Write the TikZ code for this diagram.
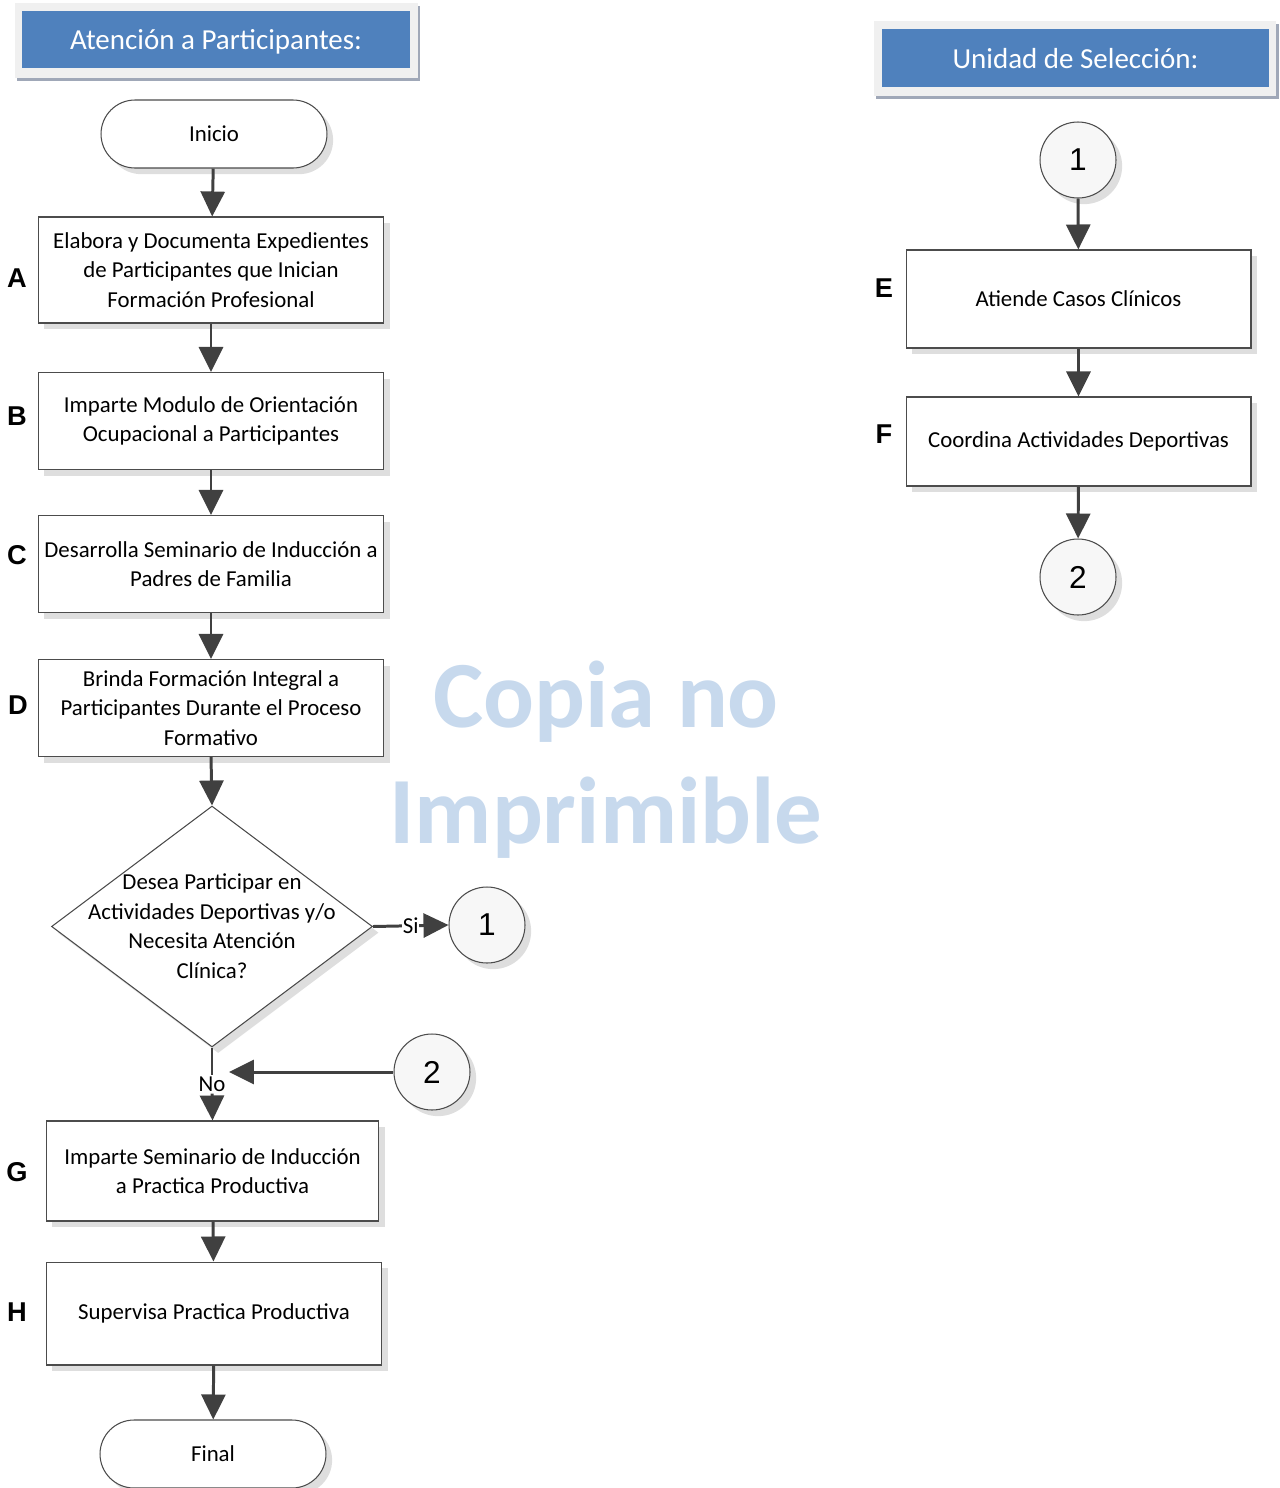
\documentclass[tikz,border=0pt]{standalone}
\usepackage{fontspec}
\setmainfont{Carlito}
\newfontfamily\arialfont{Liberation Sans}
\usetikzlibrary{arrows.meta, shapes.geometric, shadows, positioning}
\definecolor{hdrblue}{RGB}{79,129,189}
\definecolor{hdrpanel}{RGB}{240,240,240}
\definecolor{hdrshadow}{RGB}{160,168,184}
\definecolor{flowline}{RGB}{64,64,64}
\definecolor{marca}{RGB}{199,217,237}

\begin{document}
\begin{tikzpicture}[x=0.02cm, y=-0.02cm,
    sombra/.style={drop shadow={shadow xshift=3.5pt, shadow yshift=-3.5pt, fill=black!13, opacity=1}},
    proc/.style={draw=black!70, line width=0.6pt, fill=white, sombra, minimum width=6.92cm, minimum height=1.94cm, inner sep=2pt, align=center, font=\fontsize{13}{16.8}\selectfont},
    term/.style={draw=black!70, line width=0.6pt, fill=white, sombra, minimum width=4.52cm, minimum height=1.36cm, rounded corners=0.68cm, font=\fontsize{13}{16.8}\selectfont},
    decision/.style={diamond, draw=black!70, line width=0.6pt, fill=white, sombra, minimum width=6.42cm, minimum height=4.82cm, inner sep=0pt},
    circ/.style={circle, draw=black!70, line width=0.6pt, fill=gray!6, sombra, minimum size=1.52cm, inner sep=0pt, font=\arialfont\fontsize{18}{18}\selectfont},
    letra/.style={font=\arialfont\bfseries\fontsize{15.5}{16}\selectfont},
    hdr/.style={fill=hdrblue, text=white, font=\fontsize{16.5}{20}\selectfont},
    wm/.style={text=marca, font=\bfseries\fontsize{54}{60}\selectfont, anchor=base},
    line/.style={draw=flowline, line width=1.7pt},
    flow/.style={line, -{Triangle[width=0.48cm, length=0.5cm]}}]
  \useasboundingbox (0,0) rectangle (1279,1488);

  % marca de agua
  \node[wm] (marca1) at (606,727) {Copia no};
  \node[wm] (marca2) at (606,843) {Imprimible};

  % encabezados
  \fill[hdrshadow] (17,6) rectangle (420,81);
  \fill[hdrpanel] (15,3) rectangle (418,78);
  \fill[hdrshadow] (876,24) rectangle (1279,99);
  \fill[hdrpanel] (874,21) rectangle (1276,96);
  \fill[hdrblue] (22,11) rectangle (410,68);
  \fill[hdrblue] (882,29) rectangle (1269,87);
  \node[hdr] (hdr1) at (216,41.5) {Atención a Participantes:};
  \node[hdr] (hdr2) at (1075.5,59) {Unidad de Selección:};

  % columna izquierda
  \node[term] (inicio) at (214,134) {Inicio};
  \node[proc, minimum height=2.12cm] (a) at (211,270) {Elabora y Documenta Expedientes\\de Participantes que Inician\\Formación Profesional};
  \node[proc] (b) at (211,421) {Imparte Modulo de Orientación\\Ocupacional a Participantes};
  \node[proc] (c) at (211,564) {Desarrolla Seminario de Inducción a\\Padres de Familia};
  \node[proc] (d) at (211,708) {Brinda Formación Integral a\\Participantes Durante el Proceso\\Formativo};
  \node[decision] (dec) at (212,926.5) {};
  \node[align=center, font=\fontsize{13}{16.8}\selectfont] (dectxt) at (212,926) {Desea Participar en\\Actividades Deportivas y/o\\Necesita Atención\\Clínica?};
  \node[circ] (uno) at (487,925) {1};
  \node[circ] (dos) at (432,1072) {2};
  \node[fill=white, inner sep=1pt, font=\fontsize{13}{16.8}\selectfont] (no) at (212,1084) {No};
  \coordinate (junta) at (229,1072);
  \node[proc, minimum width=6.66cm, minimum height=2cm] (g) at (212.5,1171) {Imparte Seminario de Inducción\\a Practica Productiva};
  \node[proc, minimum width=6.72cm, minimum height=2.06cm] (h) at (214,1313.5) {Supervisa Practica Productiva};
  \node[term] (final) at (213,1454) {Final};

  \node[letra] (la) at (17,278) {A};
  \node[letra] (lb) at (17,416) {B};
  \node[letra] (lc) at (17,555) {C};
  \node[letra] (ld) at (18,705) {D};
  \node[letra] (lg) at (17,1172) {G};
  \node[letra] (lh) at (17,1312) {H};

  % columna derecha
  \node[circ] (uno2) at (1078,160) {1};
  \node[proc, minimum width=6.9cm, minimum height=1.96cm] (e) at (1078.5,299) {Atiende Casos Clínicos};
  \node[proc, minimum width=6.9cm, minimum height=1.78cm] (f) at (1078.5,441.5) {Coordina Actividades Deportivas};
  \node[circ] (dos2) at (1078,577) {2};

  \node[letra] (le) at (884,288) {E};
  \node[letra] (lf) at (884,434) {F};

  % conectores
  \draw[flow] (inicio) -- (a);
  \draw[flow] (a) -- (b);
  \draw[flow] (b) -- (c);
  \draw[flow] (c) -- (d);
  \draw[flow] (d.south) -- (dec.north);
  \draw[flow] (dec.east) -- node[fill=white, inner sep=0.5pt, font=\fontsize{13}{16.8}\selectfont] (si) {Si} (uno.west);
  \draw[line] (dec.south) -- (no.north);
  \draw[flow] (no.south) -- (g.north);
  \draw[flow] (dos.west) -- (junta);
  \draw[flow] (g) -- (h);
  \draw[flow] (h) -- (final);
  \draw[flow] (uno2) -- (e);
  \draw[flow] (e) -- (f);
  \draw[flow] (f) -- (dos2);
\end{tikzpicture}
\end{document}
